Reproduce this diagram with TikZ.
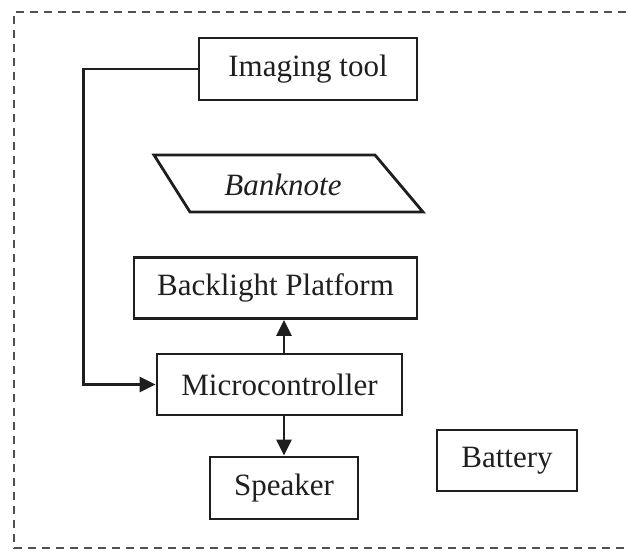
\documentclass[tikz,border=0pt]{standalone}
\usepackage{fontspec}
\setmainfont{Liberation Serif}
\usetikzlibrary{arrows.meta}
\definecolor{linec}{HTML}{1E1E1E}
\definecolor{dashc}{HTML}{505050}
\begin{document}
\begin{tikzpicture}[x=1pt,y=-1pt,
  box/.style={draw=linec, line width=2.8pt, inner sep=0pt, fill=white,
    font=\fontsize{31}{36}\selectfont, text=black!88},
  conn/.style={draw=linec, line width=2.8pt, -{Triangle[length=16pt,width=15pt]}},
  frame/.style={draw=dashc, line width=1.9pt, dash pattern=on 8pt off 6pt}]
\useasboundingbox (0,0) rectangle (626,550);
\draw[frame] (626,12) -- (14,12) -- (14,548) -- (626,548);
\node[box, minimum width=218pt, minimum height=62pt] (imaging) at (308,69) {Imaging tool};
\draw[draw=linec, line width=2.8pt, line join=miter] (154,155) -- (375,155) -- (423,212) -- (190,212) -- cycle;
\node[font=\fontsize{31}{36}\selectfont\itshape, text=black!88, inner sep=0pt] (banknote) at (283,185) {Banknote};
\node[box, minimum width=283pt, minimum height=61pt] (backlight) at (275.5,288) {Backlight Platform};
\node[box, minimum width=245pt, minimum height=61pt] (micro) at (279.5,384.5) {Microcontroller};
\node[box, minimum width=148pt, minimum height=62pt] (speaker) at (284,488) {Speaker};
\node[box, minimum width=140pt, minimum height=61pt] (battery) at (507,460.5) {Battery};
\draw[conn] (imaging.west) -- ++(-114,0) |- (micro.west);
\draw[conn] (micro.north -| speaker.north) -- (backlight.south -| speaker.north);
\draw[conn] (micro.south -| speaker.north) -- (speaker.north);
\end{tikzpicture}
\end{document}
